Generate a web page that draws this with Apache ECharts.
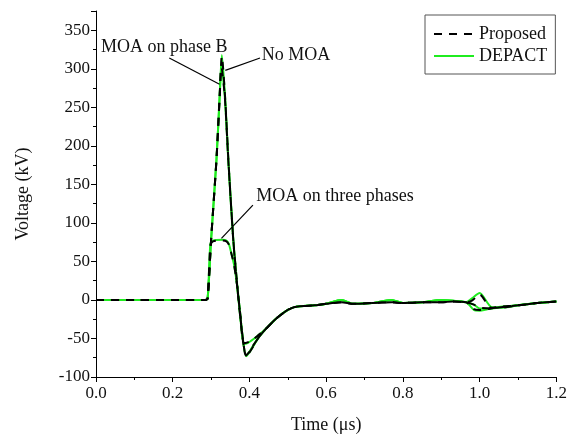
<!DOCTYPE html>
<html><head><meta charset="utf-8">
<script src="https://cdn.jsdelivr.net/npm/echarts@6/dist/echarts.min.js"></script>
<style>html,body{margin:0;padding:0;background:#fff}#c{width:570px;height:441px}</style>
</head><body><div id="c"></div>
<script>
// Time axis values (µs) and voltages (kV)
var tNoMoa = [0, 0.1, 0.2, 0.285, 0.291, 0.300, 0.314, 0.322, 0.328, 0.337, 0.345, 0.358, 0.368, 0.376, 0.384, 0.391, 0.40, 0.41, 0.425, 0.44, 0.47, 0.5, 0.52, 0.57, 0.6, 0.64, 0.67, 0.72, 0.77, 0.8, 0.85, 0.9, 0.93, 0.965, 0.98, 1.0, 1.03, 1.06, 1.1, 1.15, 1.2];
var vNoMoaProposed = [0, 0, 0, 0, 2, 78, 182, 259, 316, 259, 182, 78, 20, -20, -55, -73, -68, -60, -48, -39, -24, -13, -9, -7, -5, -3, -5, -4, -3, -4, -3, -3, -2, -3, -1, 7, -10, -10, -7, -4, -2];
var vNoMoaDepact = [0, 0, 0, 0, 2, 78, 182, 259, 318, 259, 182, 78, 20, -20, -55, -73, -68, -60, -48, -39, -24, -13, -9, -7, -5, 0, -5, -4, 0, -4, -3, 0, -1, -3, 2, 9, -9, -10, -7, -4, -2];

var tPhaseB = [0, 0.1, 0.2, 0.285, 0.291, 0.300, 0.314, 0.322, 0.327, 0.336, 0.345, 0.358, 0.368, 0.376, 0.384, 0.391, 0.40, 0.41, 0.425, 0.44, 0.47, 0.5, 0.52, 0.57, 0.6, 0.64, 0.67, 0.72, 0.77, 0.8, 0.85, 0.9, 0.93, 0.965, 0.985, 1.0, 1.02, 1.05, 1.1, 1.15, 1.2];
var vPhaseBProposed = [0, 0, 0, 0, 2, 78, 182, 262, 302, 262, 180, 76, 18, -22, -56, -72, -67, -59, -48, -39, -24, -13, -9, -7, -5, -3, -5, -4, -3, -4, -3, -3, -2, -3, -12, -13, -12, -9, -7, -4, -2];
var vPhaseBDepact = [0, 0, 0, 0, 2, 78, 182, 262, 304, 262, 180, 76, 18, -22, -56, -72, -67, -59, -48, -39, -24, -13, -9, -7, -5, 0, -5, -4, 0, -4, -3, 0, -1, -3, -13, -14, -12, -9, -7, -4, -2];

var tThree = [0, 0.1, 0.2, 0.285, 0.291, 0.298, 0.305, 0.33, 0.34, 0.346, 0.352, 0.36, 0.368, 0.376, 0.385, 0.395, 0.41, 0.425, 0.44, 0.47, 0.5, 0.52, 0.57, 0.6, 0.64, 0.67, 0.72, 0.77, 0.8, 0.85, 0.9, 0.93, 0.965, 0.985, 1.0, 1.03, 1.06, 1.1, 1.15, 1.2];
var vThreeProposed = [0, 0, 0, 0, 2, 70, 76, 77, 76, 72, 62, 45, 18, -18, -56, -55, -51, -45, -39, -24, -13, -9, -7, -5, -3, -5, -4, -3, -4, -3, -3, -2, -3, -6, -10, -11, -9, -7, -4, -2];
var vThreeDepact = [0, 0, 0, 0, 2, 72, 77, 78, 77, 73, 62, 45, 18, -18, -57, -56, -51, -45, -39, -24, -13, -9, -7, -5, 0, -5, -4, 0, -4, -3, 0, -1, -3, -6, -11, -11, -9, -7, -4, -2];

var yTicks = [-100, -50, 0, 50, 100, 150, 200, 250, 300, 350];
var xTicks = [0.0, 0.2, 0.4, 0.6, 0.8, 1.0, 1.2];

// annotations
var annoText = ['MOA on phase B', 'No MOA', 'MOA on three phases'];
var annoTextPos = [[0.178, 328], [0.432, 318], [0.418, 134]];
var annoAlign = ['center', 'left', 'left'];
var annoLines = [[[0.191, 314], [0.322, 280]], [[0.4275, 314], [0.337, 298]], [[0.409, 123], [0.327, 80]]];

function zip(t, v) { return t.map(function (x, i) { return [x, v[i]]; }); }

var serif = 'Liberation Serif, Times New Roman, serif';
var green = '#1fec1f';

function depact(t, v) {
  return { name: 'DEPACT', type: 'line', data: zip(t, v), symbol: 'none', smooth: 0.25, z: 2,
    lineStyle: { color: green, width: 2 }, itemStyle: { color: green } };
}
function proposed(t, v) {
  return { name: 'Proposed', type: 'line', data: zip(t, v), symbol: 'none', smooth: 0.25, z: 3,
    lineStyle: { color: '#000', width: 2, type: [8, 7] }, itemStyle: { color: '#000' } };
}

var series = [
  depact(tNoMoa, vNoMoaDepact), depact(tPhaseB, vPhaseBDepact), depact(tThree, vThreeDepact),
  proposed(tNoMoa, vNoMoaProposed), proposed(tPhaseB, vPhaseBProposed), proposed(tThree, vThreeProposed)
];
series.push({
  type: 'line', data: [], silent: true,
  markLine: { silent: true, symbol: 'none', animation: false, label: { show: false },
    lineStyle: { color: '#000', width: 1.2, type: 'solid' },
    data: annoLines.map(function (l) { return [{ coord: l[0] }, { coord: l[1] }]; }) }
});

var chart = echarts.init(document.getElementById('c'));
chart.setOption({
  animation: false,
  backgroundColor: '#fff',
  grid: { left: 96, right: 8, top: 11, bottom: 64 },
  legend: {
    data: ['Proposed', 'DEPACT'], orient: 'vertical', left: 425, top: 15,
    padding: [10, 8, 9, 8], itemGap: 4, itemWidth: 40, itemHeight: 14,
    itemStyle: { opacity: 0 },
    borderColor: '#555', borderWidth: 1, borderRadius: 0,
    textStyle: { fontFamily: serif, fontSize: 18, color: '#111' }
  },
  xAxis: {
    type: 'value', min: 0, max: 1.2, interval: 0.2,
    name: 'Time (\u03bcs)', nameLocation: 'middle', nameGap: 39,
    nameTextStyle: { fontFamily: serif, fontSize: 18, color: '#111' },
    axisLine: { onZero: false, lineStyle: { color: '#000', width: 1 } },
    axisTick: { length: 5, lineStyle: { color: '#000' } },
    minorTick: { show: true, splitNumber: 2, length: 3, lineStyle: { color: '#000' } },
    splitLine: { show: false },
    axisLabel: { fontFamily: serif, fontSize: 17, color: '#111', margin: 8,
      formatter: function (v) { return xTicks.indexOf(Math.round(v * 10) / 10) >= 0 ? v.toFixed(1) : ''; } }
  },
  yAxis: {
    type: 'value', min: -100, max: 375, interval: 50,
    name: 'Voltage (kV)', nameLocation: 'middle', nameGap: 64,
    nameTextStyle: { fontFamily: serif, fontSize: 18, color: '#111' },
    axisLine: { show: true, lineStyle: { color: '#000', width: 1 } },
    axisTick: { length: 5, lineStyle: { color: '#000' } },
    minorTick: { show: true, splitNumber: 2, length: 3, lineStyle: { color: '#000' } },
    splitLine: { show: false },
    axisLabel: { fontFamily: serif, fontSize: 17, color: '#111', margin: 6, showMaxLabel: false,
      formatter: function (v) { return yTicks.indexOf(v) >= 0 ? String(v) : ''; } }
  },
  series: series
});

var g = annoText.map(function (txt, i) {
  var p = chart.convertToPixel({ gridIndex: 0 }, annoTextPos[i]);
  return { type: 'text', x: p[0], y: p[1], z: 100,
    style: { text: txt, fontFamily: serif, fontSize: 18, fill: '#111', align: annoAlign[i], verticalAlign: 'middle' } };
});
chart.setOption({ graphic: g });
</script></body></html>
